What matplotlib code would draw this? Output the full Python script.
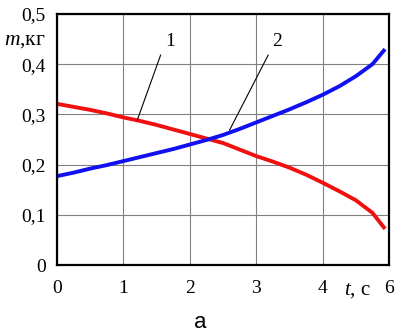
import matplotlib
matplotlib.use("Agg")
import matplotlib.pyplot as plt

plt.rcParams["mathtext.fontset"] = "custom"
plt.rcParams["mathtext.it"] = "Liberation Serif:italic"
plt.rcParams["mathtext.rm"] = "Liberation Serif"

t = [0, 0.25, 0.5, 0.75, 1, 1.25, 1.5, 1.75, 2, 2.25, 2.5, 2.75, 3, 3.25,
     3.5, 3.75, 4, 4.25, 4.5, 4.75, 4.94]
m1 = [0.321, 0.315, 0.309, 0.302, 0.294, 0.287, 0.279, 0.270, 0.261, 0.252,
      0.243, 0.230, 0.217, 0.206, 0.194, 0.180, 0.164, 0.147, 0.129, 0.104, 0.072]
m2 = [0.177, 0.184, 0.192, 0.199, 0.207, 0.215, 0.223, 0.231, 0.240, 0.249,
      0.259, 0.271, 0.284, 0.297, 0.310, 0.324, 0.339, 0.356, 0.376, 0.400, 0.430]
xticks = [0, 1, 2, 3, 4, 5]
xticklabels = ["0", "1", "2", "3", "4", "6"]
yticks = [0, 0.1, 0.2, 0.3, 0.4, 0.5]
yticklabels = ["0", "0,1", "0,2", "0,3", "0,4", "0,5"]

serif = "Liberation Serif"
fs = 14

fig = plt.figure(figsize=(4.02, 3.31), dpi=100)
ax = fig.add_axes([57/402, 1-265/331, 332/402, 251/331])

ax.plot(t, m1, color="#f01010", lw=2.8, solid_capstyle="butt", solid_joinstyle="round")
ax.plot(t, m2, color="#1010f0", lw=2.8, solid_capstyle="butt", solid_joinstyle="round")

ax.set_xlim(0, 5)
ax.set_ylim(0, 0.5)
ax.set_xticks(xticks)
ax.set_xticklabels(xticklabels, fontfamily=serif, fontsize=fs)
ax.set_yticks(yticks)
ax.set_yticklabels(yticklabels, fontfamily=serif, fontsize=fs)
ax.tick_params(axis="x", length=0, pad=11)
ax.tick_params(axis="y", length=0, pad=8)
ax.grid(True, color="#808080", lw=0.8)
for s in ax.spines.values():
    s.set_linewidth(1.6)
    s.set_color("black")

# annotations
ax.plot([1.56, 1.21], [0.418, 0.289], color="black", lw=0.8)
ax.text(1.71, 0.445, "1", fontfamily=serif, fontsize=fs, ha="center", va="center")
ax.plot([3.18, 2.6], [0.418, 0.269], color="black", lw=0.8)
ax.text(3.32, 0.445, "2", fontfamily=serif, fontsize=fs, ha="center", va="center")

fig.text(46/402, 1-41/331, r"$m$,кг", fontfamily=serif, fontsize=15.5,
         ha="right", va="center")
fig.text(357/402, 1-291/331, r"$t$, с", fontfamily=serif, fontsize=15,
         ha="center", va="center")
fig.text(200/402, 1-322/331, "а", fontfamily="Liberation Sans", fontsize=16,
         ha="center", va="center")

fig.savefig("out.png", dpi=100)
